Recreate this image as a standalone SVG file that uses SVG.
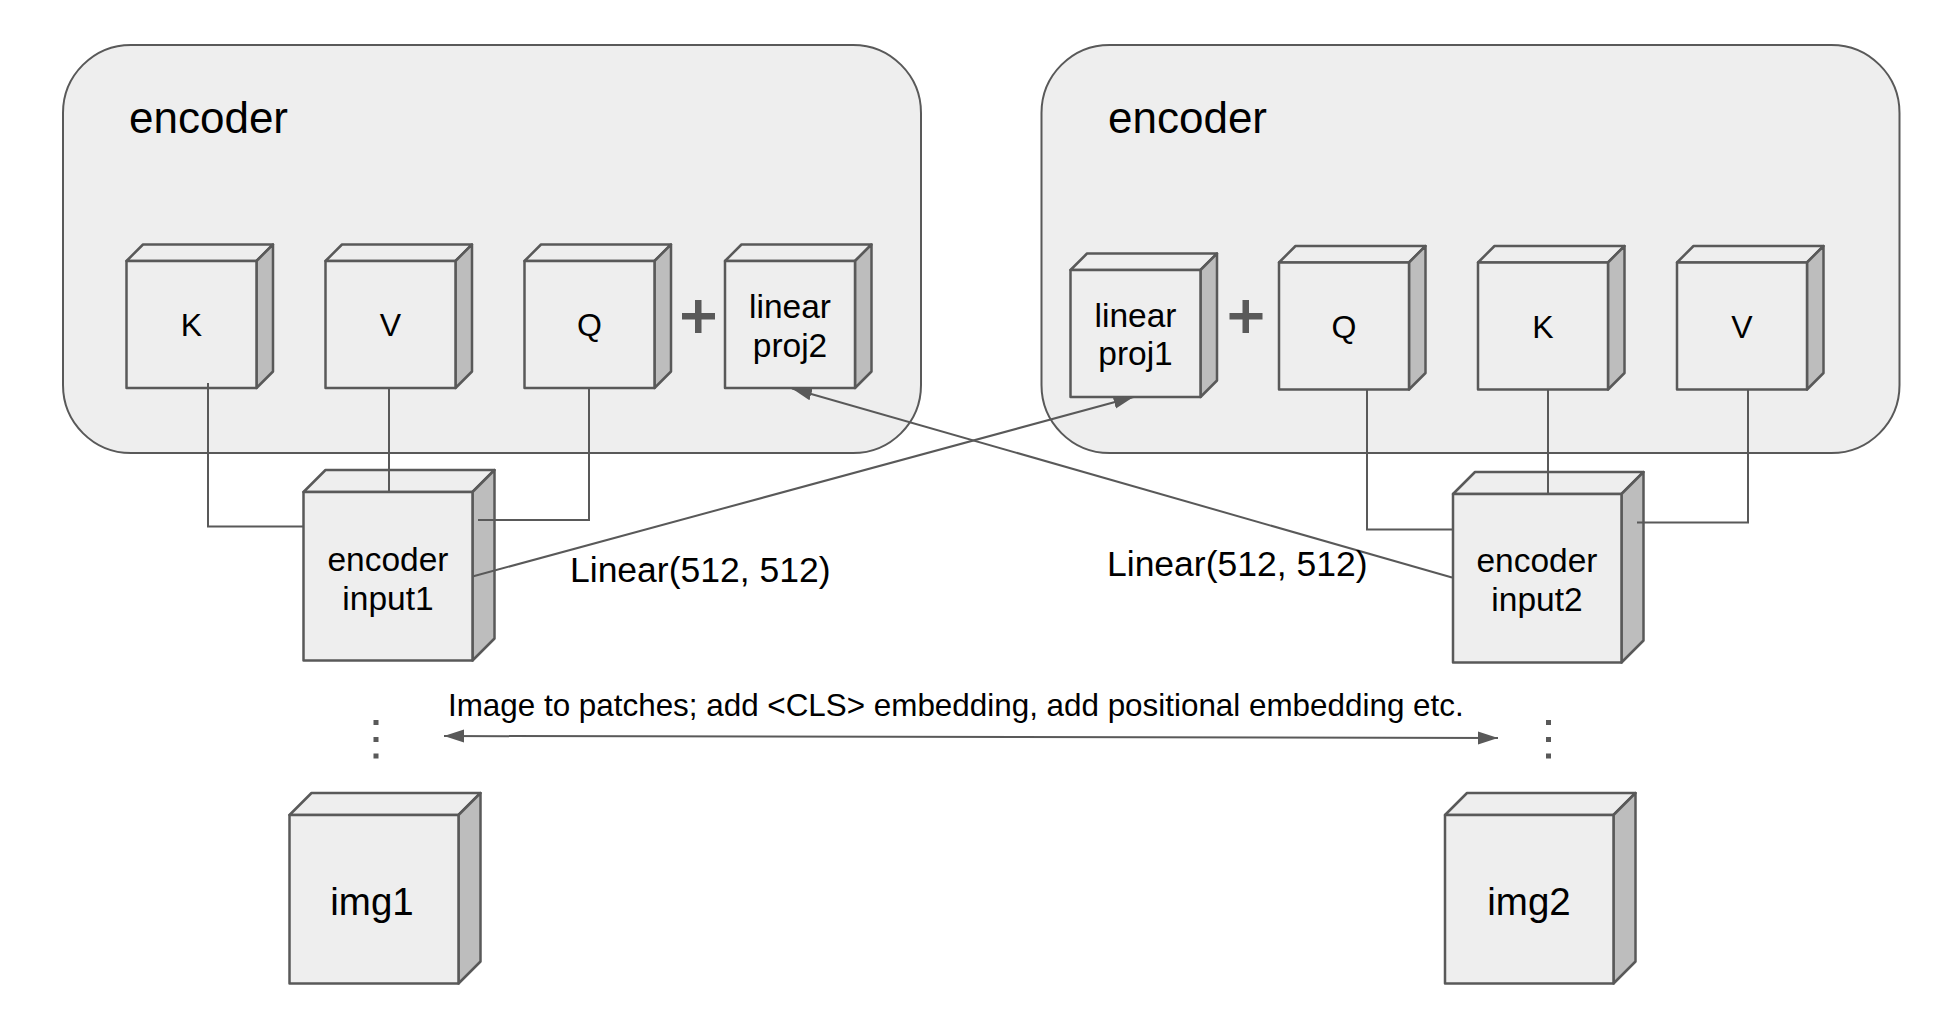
<svg xmlns="http://www.w3.org/2000/svg" width="1934" height="1028" viewBox="0 0 1934 1028">
<defs>
<style>
.cont{fill:#eeeeee;stroke:#595959;stroke-width:2}
.front{fill:#eeeeee;stroke:#595959;stroke-width:2.5;stroke-linejoin:round}
.top{fill:#eeeeee;stroke:#595959;stroke-width:2.5;stroke-linejoin:round}
.side{fill:#bdbdbd;stroke:#595959;stroke-width:2.5;stroke-linejoin:round}
.conn{fill:none;stroke:#595959;stroke-width:2}
.t{font-family:"Liberation Sans",Arial,Helvetica,sans-serif;fill:#000}
.title{font-size:44px}
.lbl{font-size:32px;text-anchor:middle}
.lbl3{font-size:33.5px;text-anchor:middle}
.lbl2{font-size:33.5px;text-anchor:middle}
.big{font-size:38.5px;text-anchor:middle}
.edge{font-size:35.5px}
.note{font-size:31.4px}
.dot{fill:#595959}
</style>
<marker id="ah" markerUnits="userSpaceOnUse" markerWidth="22" markerHeight="14" refX="20" refY="6.5" orient="auto-start-reverse">
<path d="M0,0 L20,6.5 L0,13 z" fill="#595959"/>
</marker>
</defs>

<g id="encoder-left">
<rect class="cont" x="63" y="45" width="858" height="408" rx="68" ry="68"/>
<text class="t title" x="129" y="133">encoder</text>
</g>
<g id="encoder-right">
<rect class="cont" x="1041.5" y="45" width="858" height="408" rx="68" ry="68"/>
<text class="t title" x="1108" y="133">encoder</text>
</g>

<!-- left encoder cubes -->
<g id="K1">
<polygon class="top" points="126.5,261 143,244.5 273,244.5 256.5,261"/>
<polygon class="side" points="256.5,261 273,244.5 273,371.5 256.5,388"/>
<rect class="front" x="126.5" y="261" width="130" height="127"/>
<text class="t lbl" x="191.5" y="336">K</text>
</g>
<g id="V1">
<polygon class="top" points="325.5,261 342,244.5 472,244.5 455.5,261"/>
<polygon class="side" points="455.5,261 472,244.5 472,371.5 455.5,388"/>
<rect class="front" x="325.5" y="261" width="130" height="127"/>
<text class="t lbl" x="390.5" y="336">V</text>
</g>
<g id="Q1">
<polygon class="top" points="524.5,261 541,244.5 671,244.5 654.5,261"/>
<polygon class="side" points="654.5,261 671,244.5 671,371.5 654.5,388"/>
<rect class="front" x="524.5" y="261" width="130" height="127"/>
<text class="t lbl" x="589.5" y="336">Q</text>
</g>
<g id="plus1">
<rect class="dot" x="682" y="313" width="33" height="6.5"/>
<rect class="dot" x="695" y="300" width="6.5" height="33"/>
</g>
<g id="linproj2">
<polygon class="top" points="725,261 741.5,244.5 871.5,244.5 855,261"/>
<polygon class="side" points="855,261 871.5,244.5 871.5,371.5 855,388"/>
<rect class="front" x="725" y="261" width="130" height="127"/>
<text class="t lbl3" x="790" y="318">linear</text>
<text class="t lbl3" x="790" y="356.5">proj2</text>
</g>

<!-- right encoder cubes -->
<g id="linproj1">
<polygon class="top" points="1070.5,270 1087,253.5 1217,253.5 1200.5,270"/>
<polygon class="side" points="1200.5,270 1217,253.5 1217,380.5 1200.5,397"/>
<rect class="front" x="1070.5" y="270" width="130" height="127"/>
<text class="t lbl3" x="1135.5" y="326.5">linear</text>
<text class="t lbl3" x="1135.5" y="365">proj1</text>
</g>
<g id="plus2">
<rect class="dot" x="1229.5" y="313" width="33" height="6.5"/>
<rect class="dot" x="1242.5" y="300" width="6.5" height="33"/>
</g>
<g id="Q2">
<polygon class="top" points="1279,262.5 1295.5,246 1425.5,246 1409,262.5"/>
<polygon class="side" points="1409,262.5 1425.5,246 1425.5,373 1409,389.5"/>
<rect class="front" x="1279" y="262.5" width="130" height="127"/>
<text class="t lbl" x="1344" y="337.5">Q</text>
</g>
<g id="K2">
<polygon class="top" points="1478,262.5 1494.5,246 1624.5,246 1608,262.5"/>
<polygon class="side" points="1608,262.5 1624.5,246 1624.5,373 1608,389.5"/>
<rect class="front" x="1478" y="262.5" width="130" height="127"/>
<text class="t lbl" x="1543" y="337.5">K</text>
</g>
<g id="V2">
<polygon class="top" points="1677,262.5 1693.5,246 1823.5,246 1807,262.5"/>
<polygon class="side" points="1807,262.5 1823.5,246 1823.5,373 1807,389.5"/>
<rect class="front" x="1677" y="262.5" width="130" height="127"/>
<text class="t lbl" x="1742" y="337.5">V</text>
</g>

<!-- encoder inputs -->
<g id="input1">
<polygon class="top" points="303.5,492 325.5,470 494.5,470 472.5,492"/>
<polygon class="side" points="472.5,492 494.5,470 494.5,638.5 472.5,660.5"/>
<rect class="front" x="303.5" y="492" width="169" height="168.5"/>
<text class="t lbl2" x="388" y="570.5">encoder</text>
<text class="t lbl2" x="388" y="609.5">input1</text>
</g>
<g id="input2">
<polygon class="top" points="1453,494 1475,472 1643.5,472 1621.5,494"/>
<polygon class="side" points="1621.5,494 1643.5,472 1643.5,640.5 1621.5,662.5"/>
<rect class="front" x="1453" y="494" width="168.5" height="168.5"/>
<text class="t lbl2" x="1537" y="571.5">encoder</text>
<text class="t lbl2" x="1537" y="611">input2</text>
</g>

<!-- images -->
<g id="img1">
<polygon class="top" points="289.5,815 311.5,793 480.5,793 458.5,815"/>
<polygon class="side" points="458.5,815 480.5,793 480.5,961.5 458.5,983.5"/>
<rect class="front" x="289.5" y="815" width="169" height="168.5"/>
<text class="t big" x="372" y="915">img1</text>
</g>
<g id="img2">
<polygon class="top" points="1445,815 1467,793 1635.5,793 1613.5,815"/>
<polygon class="side" points="1613.5,815 1635.5,793 1635.5,961.5 1613.5,983.5"/>
<rect class="front" x="1445" y="815" width="168.5" height="168.5"/>
<text class="t big" x="1529" y="915">img2</text>
</g>

<g id="connectors">
<polyline class="conn" points="208,383 208,526.5 303.5,526.5"/>
<polyline class="conn" points="389,388 389,492"/>
<polyline class="conn" points="589,388 589,520 478,520"/>
<polyline class="conn" points="1367,389.5 1367,529.5 1453,529.5"/>
<polyline class="conn" points="1548,389.5 1548,494"/>
<polyline class="conn" points="1748,389.5 1748,522.5 1637,522.5"/>
<line class="conn" x1="472.5" y1="576.5" x2="1133.5" y2="397" marker-end="url(#ah)"/>
<line class="conn" x1="1452" y1="577.5" x2="792" y2="388.5" marker-end="url(#ah)"/>
<line class="conn" x1="444" y1="736" x2="1498" y2="738" marker-start="url(#ah)" marker-end="url(#ah)"/>
<text class="t edge" x="570" y="581.5">Linear(512, 512)</text>
<text class="t edge" x="1107" y="576">Linear(512, 512)</text>
<text class="t note" x="448" y="716">Image to patches; add &lt;CLS&gt; embedding, add positional embedding etc.</text>
</g>

<g id="dots-left">
<rect class="dot" x="373.5" y="720" width="5" height="5"/>
<rect class="dot" x="373.5" y="737" width="5" height="5"/>
<rect class="dot" x="373.5" y="753.5" width="5" height="5"/>
</g>
<g id="dots-right">
<rect class="dot" x="1546" y="720" width="5" height="5"/>
<rect class="dot" x="1546" y="737" width="5" height="5"/>
<rect class="dot" x="1546" y="753.5" width="5" height="5"/>
</g>
</svg>
